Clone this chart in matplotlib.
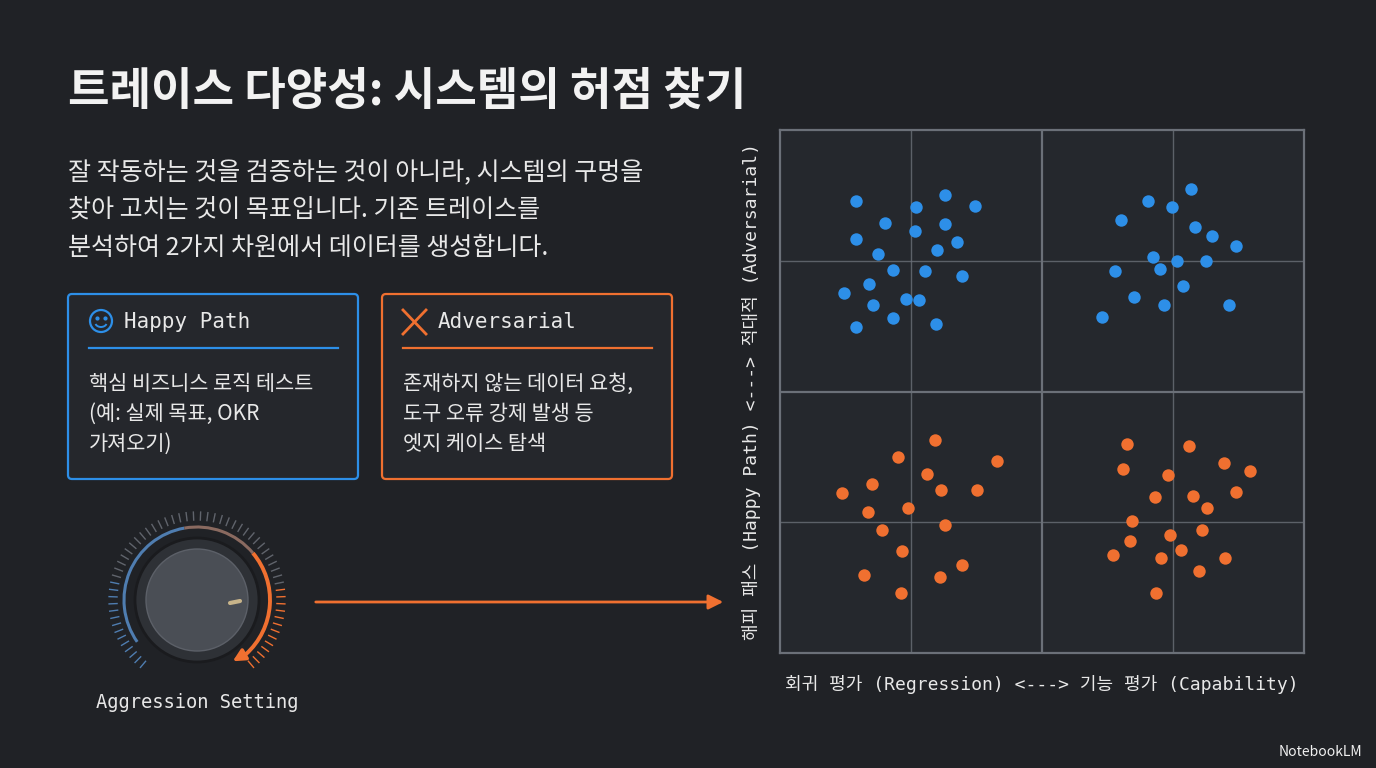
import numpy as np
import matplotlib.pyplot as plt
from matplotlib.patches import FancyBboxPatch, Circle, Arc, FancyArrowPatch

KR = ['Noto Sans CJK KR', 'DejaVu Sans']
MONO = ['DejaVu Sans Mono', 'Noto Sans CJK KR']

# scatter data (axis units 0..4, quadrants 2x2)
blue_tl_x = [0.58, 1.04, 1.26, 1.49, 0.80, 1.26, 1.03, 0.58, 1.35, 0.75, 1.20, 0.86, 1.11, 1.39, 0.68, 0.49, 0.96, 1.06, 0.71, 0.86, 0.58, 1.19]
blue_tl_y = [3.46, 3.41, 3.50, 3.42, 3.29, 3.28, 3.23, 3.17, 3.14, 3.05, 3.08, 2.93, 2.92, 2.88, 2.82, 2.75, 2.71, 2.70, 2.66, 2.56, 2.49, 2.52]
blue_tr_x = [3.14, 2.81, 2.99, 2.60, 3.17, 3.30, 3.48, 2.85, 3.03, 3.25, 2.56, 2.90, 3.08, 2.70, 2.93, 3.43, 2.46]
blue_tr_y = [3.55, 3.46, 3.41, 3.31, 3.26, 3.19, 3.11, 3.03, 3.00, 3.00, 2.92, 2.94, 2.81, 2.72, 2.66, 2.66, 2.57]
orange_bl_x = [1.18, 0.90, 1.66, 1.12, 0.70, 0.47, 1.23, 1.50, 0.67, 0.98, 0.78, 1.26, 0.93, 1.39, 0.64, 1.22, 0.92]
orange_bl_y = [1.63, 1.50, 1.47, 1.37, 1.29, 1.22, 1.25, 1.25, 1.08, 1.11, 0.94, 0.98, 0.78, 0.67, 0.60, 0.58, 0.46]
orange_br_x = [2.65, 3.12, 2.62, 3.39, 3.59, 2.96, 2.86, 3.15, 3.48, 3.26, 2.69, 3.22, 2.67, 2.98, 3.06, 2.54, 2.91, 3.40, 3.20, 2.87]
orange_br_y = [1.60, 1.58, 1.41, 1.45, 1.39, 1.36, 1.19, 1.20, 1.23, 1.11, 1.01, 0.94, 0.86, 0.90, 0.79, 0.75, 0.73, 0.73, 0.63, 0.46]

BG = '#202226'
BLUE = '#2d8fe8'
ORANGE = '#f07030'
TXT = '#e8e8e8'
GRID = '#6b7078'

fig = plt.figure(figsize=(13.76, 7.68), dpi=100, facecolor=BG)

# overlay in pixel coordinates for decorations
ov = fig.add_axes([0, 0, 1, 1])
ov.set_xlim(0, 1376)
ov.set_ylim(768, 0)
ov.axis('off')

ov.text(68, 92, '트레이스 다양성: 시스템의 허점 찾기', color='#f2f2f2', fontsize=32.5,
        fontweight='bold', family=KR, va='center')
body = ['잘 작동하는 것을 검증하는 것이 아니라, 시스템의 구멍을',
        '찾아 고치는 것이 목표입니다. 기존 트레이스를',
        '분석하여 2가지 차원에서 데이터를 생성합니다.']
for i, line in enumerate(body):
    ov.text(68, 172 + i * 38, line, color=TXT, fontsize=18, family=KR, va='center')

# cards
for x0, col, title, lines in [
        (68, BLUE, 'Happy Path', ['핵심 비즈니스 로직 테스트', '(예: 실제 목표, OKR', '가져오기)']),
        (382, ORANGE, 'Adversarial', ['존재하지 않는 데이터 요청,', '도구 오류 강제 발생 등', '엣지 케이스 탐색'])]:
    ov.add_patch(FancyBboxPatch((x0, 294), 290, 185, boxstyle='round,pad=0,rounding_size=4',
                                fc='#25272c', ec=col, lw=1.6))
    ov.text(x0 + 56, 322, title, color=TXT, fontsize=15, family=MONO, va='center')
    ov.plot([x0 + 21, x0 + 270], [348, 348], color=col, lw=1.6)
    for i, l in enumerate(lines):
        ov.text(x0 + 21, 384 + i * 30, l, color=TXT, fontsize=15, family=KR, va='center')

# smiley icon
ov.add_patch(Circle((101, 321), 11, fc='none', ec=BLUE, lw=1.6))
ov.plot([97], [318], 'o', color=BLUE, ms=2)
ov.plot([105], [318], 'o', color=BLUE, ms=2)
ov.add_patch(Arc((101, 322), 12, 10, theta1=20, theta2=160, color=BLUE, lw=1.4))
# swords icon
ov.plot([403, 426], [310, 334], color=ORANGE, lw=2)
ov.plot([426, 403], [310, 334], color=ORANGE, lw=2)

# knob (display angles; y axis is inverted so arcs use negated angles)
kx, ky = 197, 600


def pt(a, r):
    t = np.radians(a)
    return kx + r * np.cos(t), ky - r * np.sin(t)


for k, a in enumerate(np.linspace(230, -50, 60)):
    c = '#4f7db0' if k < 14 else ('#f07030' if k > 46 else '#60646c')
    (x1, y1), (x2, y2) = pt(a, 80), pt(a, 88)
    ov.plot([x1, x2], [y1, y2], color=c, lw=1)
ov.add_patch(Arc((kx, ky), 146, 146, theta1=-215, theta2=-100, color='#4f7db0', lw=2.2))
ov.add_patch(Arc((kx, ky), 146, 146, theta1=-100, theta2=-40, color='#8a6a60', lw=2.2))
ov.add_patch(Arc((kx, ky), 146, 146, theta1=-40, theta2=48, color=ORANGE, lw=2.8))
ov.add_patch(FancyArrowPatch(pt(-46, 73), pt(-62, 71), arrowstyle='-|>', mutation_scale=18,
                             color=ORANGE, lw=2.5))
ov.add_patch(Circle((kx, ky), 62, fc='#2e3136', ec='#1a1b1e', lw=2))
ov.add_patch(Circle((kx, ky), 51, fc='#4a4e55', ec='#5c6068', lw=1))
ov.plot([230, 240], [603, 601], color='#c8b48a', lw=3, solid_capstyle='round')
ov.text(kx, 703, 'Aggression Setting', color=TXT, fontsize=13.5, family=MONO, ha='center', va='center')

# arrow
ov.add_patch(FancyArrowPatch((313, 602), (726, 602), arrowstyle='-|>', mutation_scale=22,
                             color=ORANGE, lw=2))

ov.text(1362, 752, 'NotebookLM', color='#f0f0f0', fontsize=10, family=KR, ha='right', va='center')

# scatter axes
ax = fig.add_axes([780 / 1376, 1 - 653 / 768, 524 / 1376, 523 / 768])
ax.set_facecolor('#25282d')
ax.scatter(blue_tl_x + blue_tr_x, blue_tl_y + blue_tr_y, s=80, color=BLUE, zorder=3, lw=0)
ax.scatter(orange_bl_x + orange_br_x, orange_bl_y + orange_br_y, s=80, color=ORANGE, zorder=3, lw=0)
ax.set_xlim(0, 4)
ax.set_ylim(0, 4)
for v in [1, 3]:
    ax.axvline(v, color=GRID, lw=1, alpha=0.8)
    ax.axhline(v, color=GRID, lw=1, alpha=0.8)
ax.axvline(2, color=GRID, lw=1.6)
ax.axhline(2, color=GRID, lw=1.6)
ax.set_xticks([])
ax.set_yticks([])
for s in ax.spines.values():
    s.set_color(GRID)
    s.set_linewidth(1.6)
ax.set_xlabel('회귀 평가 (Regression) <---> 기능 평가 (Capability)', color=TXT, fontsize=13,
              family=MONO, labelpad=16)
ax.set_ylabel('해피 패스 (Happy Path) <---> 적대적 (Adversarial)', color=TXT, fontsize=13,
              family=MONO, labelpad=14)

fig.savefig('out.png', dpi=100, facecolor=BG)
